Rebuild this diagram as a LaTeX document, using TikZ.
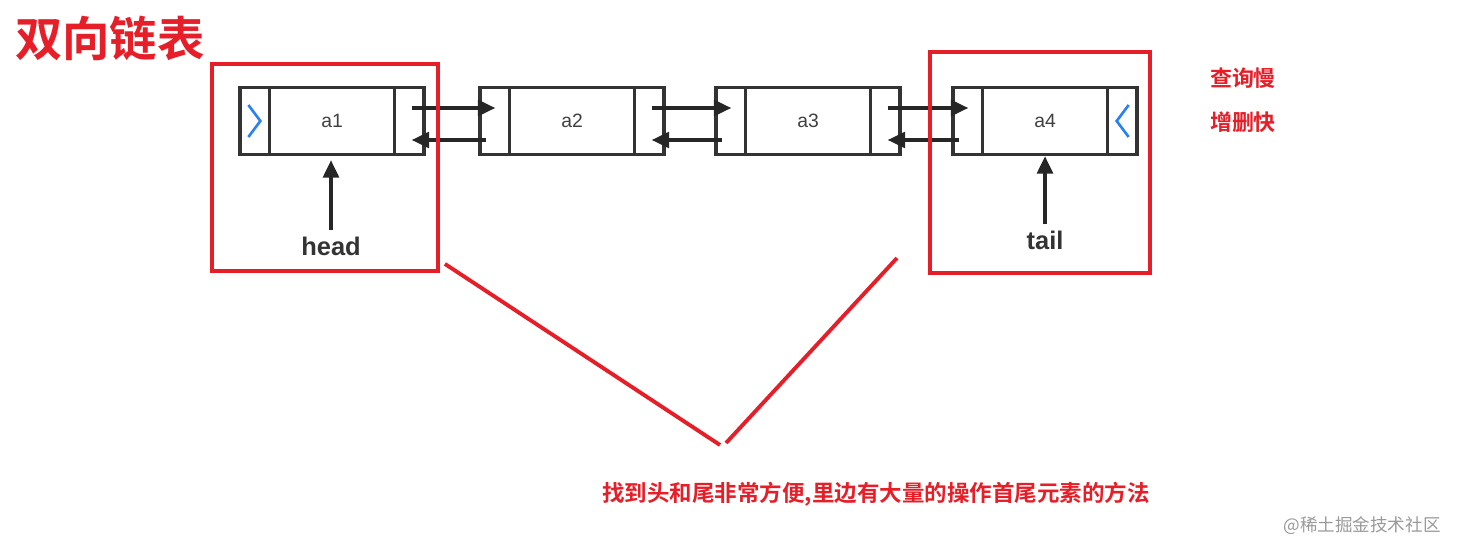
\documentclass[tikz,border=0pt]{standalone}
\usepackage{fontspec}
\setmainfont{Liberation Sans}
\newfontfamily\cjk{Noto Sans CJK SC}
\newfontfamily\cjkbold{Noto Sans CJK SC Bold}
\usetikzlibrary{arrows.meta,positioning,calc}
\definecolor{markred}{RGB}{230,30,40}
\definecolor{chevblue}{RGB}{40,130,240}
\tikzset{
  cell/.style = {draw=black!80, line width=1.9pt, minimum width=3.68cm, minimum height=1.34cm, inner sep=0pt, font=\fontsize{11}{13}\selectfont\color{black!75}},
  link/.style = {-{Triangle[length=10pt,width=9pt]}, line width=2.1pt, black!85},
  redbox/.style = {draw=markred, line width=2.2pt},
}
\begin{document}
\begin{tikzpicture}[x=0.02cm, y=-0.02cm]
\useasboundingbox (0,0) rectangle (1460,554);

% Title and notes
\node[font=\cjkbold\fontsize{27}{29}\selectfont, text=markred] (title) at (110,38) {双向链表};
\node[font=\cjkbold\fontsize{12.5}{14}\selectfont, text=markred] (slow) at (1243,78) {查询慢};
\node[font=\cjkbold\fontsize{12.5}{14}\selectfont, text=markred] (fast) at (1243,122) {增删快};

% Cells
\node[cell] (a1) at (332,121) {a1};
\node[cell] (a2) at (572,121) {a2};
\node[cell] (a3) at (808,121) {a3};
\node[cell] (a4) at (1045,121) {a4};
\foreach \c in {a1,a2,a3,a4} {
  \draw[black!80, line width=1.9pt] ($(\c.north west)+(31,0)$) -- ($(\c.south west)+(31,0)$);
  \draw[black!80, line width=1.9pt] ($(\c.north east)+(-31,0)$) -- ($(\c.south east)+(-31,0)$);
}
\draw[chevblue, line width=1.5pt] ($(a1.west)+(10,-16)$) -- ($(a1.west)+(22,0)$) -- ($(a1.west)+(10,16)$);
\draw[chevblue, line width=1.5pt] ($(a4.east)+(-10,-16)$) -- ($(a4.east)+(-22,0)$) -- ($(a4.east)+(-10,16)$);

% Links
\foreach \p/\n in {a1/a2, a2/a3, a3/a4} {
  \draw[link] ($(\p.east)+(-14,-13)$) -- ($(\n.west)+(17,-13)$);
  \draw[link] ($(\n.west)+(8,19)$) -- ($(\p.east)+(-14,19)$);
}

% Head and tail
\node[font=\bfseries\fontsize{14.5}{16}\selectfont, text=black!80] (head) at (331,246) {head};
\node[font=\bfseries\fontsize{14.5}{16}\selectfont, text=black!80] (tail) at (1045,240) {tail};
\draw[link] (head.north) -- ($(a1.south)+(-1,4)$);
\draw[link] (tail.north) -- (a4.south);

% Marks
\node[redbox, minimum width=4.52cm, minimum height=4.14cm] (left) at (325,167.5) {};
\node[redbox, minimum width=4.4cm, minimum height=4.42cm] (right) at (1040,162.5) {};
\coordinate (vl) at (720,445);
\coordinate (vr) at (726,443);
\draw[markred, line width=2.2pt] ($(left.south east)+(5,-9)$) -- (vl);
\draw[markred, line width=2.2pt] (vr) -- (897,258);
\node[font=\cjkbold\fontsize{12.8}{15}\selectfont, text=markred] (note) at (876,494) {找到头和尾非常方便,里边有大量的操作首尾元素的方法};
\node[font=\cjk\fontsize{10}{12}\selectfont, text=black!40] (mark) at (1362,526) {@稀土掘金技术社区};
\end{tikzpicture}
\end{document}
